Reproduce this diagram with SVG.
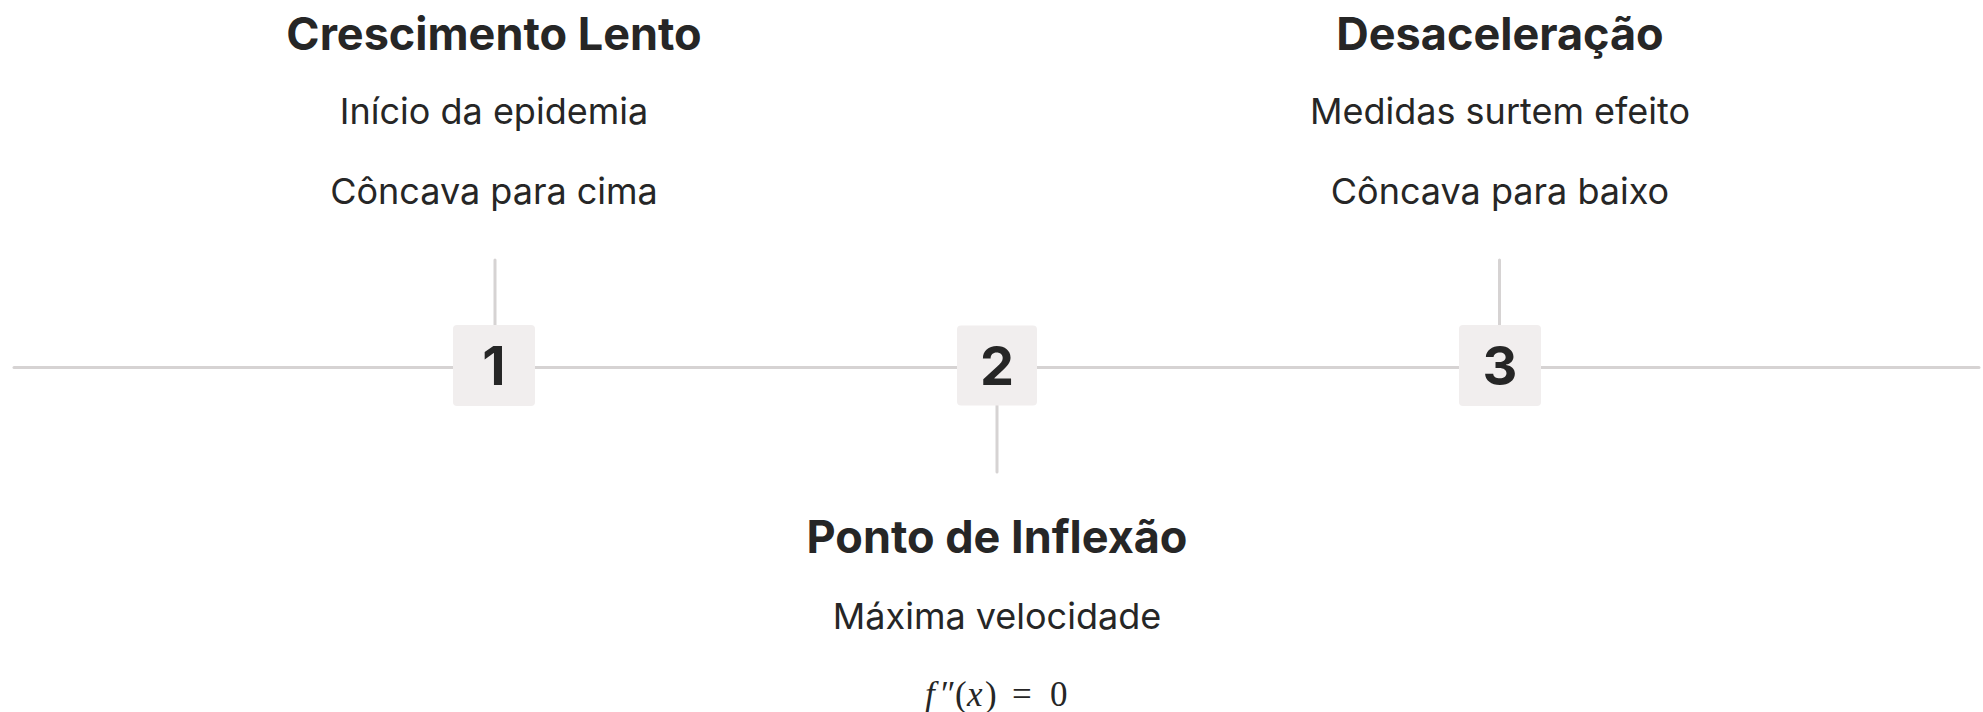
<svg xmlns="http://www.w3.org/2000/svg" width="1983" height="712" viewBox="0 0 1983 712">
<style>
.ln{stroke:#d6d3d3;stroke-width:3;stroke-linecap:round;fill:none}
.box{fill:#f1eeee}
.num{font-family:Inter,"Liberation Sans",sans-serif;font-weight:700;font-size:54px;fill:#262626;text-anchor:middle}
.ttl{font-family:Inter,"Liberation Sans",sans-serif;font-weight:700;font-size:45px;fill:#262626;text-anchor:middle}
.sub{font-family:Inter,"Liberation Sans",sans-serif;font-weight:400;font-size:36px;fill:#262626;text-anchor:middle}
.math{font-family:"Liberation Serif","DejaVu Serif",serif;font-size:35px;fill:#262626;text-anchor:start}
.it{font-style:italic}
</style>
<rect width="1983" height="712" fill="#ffffff"/>
<g id="connectors">
<line class="ln" x1="14" y1="367.5" x2="1979" y2="367.5"/>
<line class="ln" x1="495" y1="260" x2="495" y2="326"/>
<line class="ln" x1="997" y1="405" x2="997" y2="472"/>
<line class="ln" x1="1499.5" y1="260" x2="1499.5" y2="326"/>
</g>
<g id="node1">
<rect class="box" x="453" y="325" width="82" height="81" rx="4"/>
<text class="num" x="494" y="384.5">1</text>
<text class="ttl" x="494" y="50">Crescimento Lento</text>
<text class="sub" x="494" y="123.5">Início da epidemia</text>
<text class="sub" x="494" y="203.5">Côncava para cima</text>
</g>
<g id="node2">
<rect class="box" x="957" y="325.5" width="80" height="80" rx="4"/>
<text class="num" x="997" y="384.5">2</text>
<text class="ttl" x="997" y="553">Ponto de Inflexão</text>
<text class="sub" x="997" y="628.5">Máxima velocidade</text>
<text class="math" y="706"><tspan class="it" x="925">f</tspan><tspan x="941">″</tspan><tspan x="955">(</tspan><tspan class="it" x="967">x</tspan><tspan x="985">)</tspan><tspan x="1012">=</tspan><tspan x="1050">0</tspan></text>
</g>
<g id="node3">
<rect class="box" x="1459" y="325" width="82" height="81" rx="4"/>
<text class="num" x="1500" y="384.5">3</text>
<text class="ttl" x="1500" y="50">Desaceleração</text>
<text class="sub" x="1500" y="123.5">Medidas surtem efeito</text>
<text class="sub" x="1500" y="203.5">Côncava para baixo</text>
</g>
</svg>
